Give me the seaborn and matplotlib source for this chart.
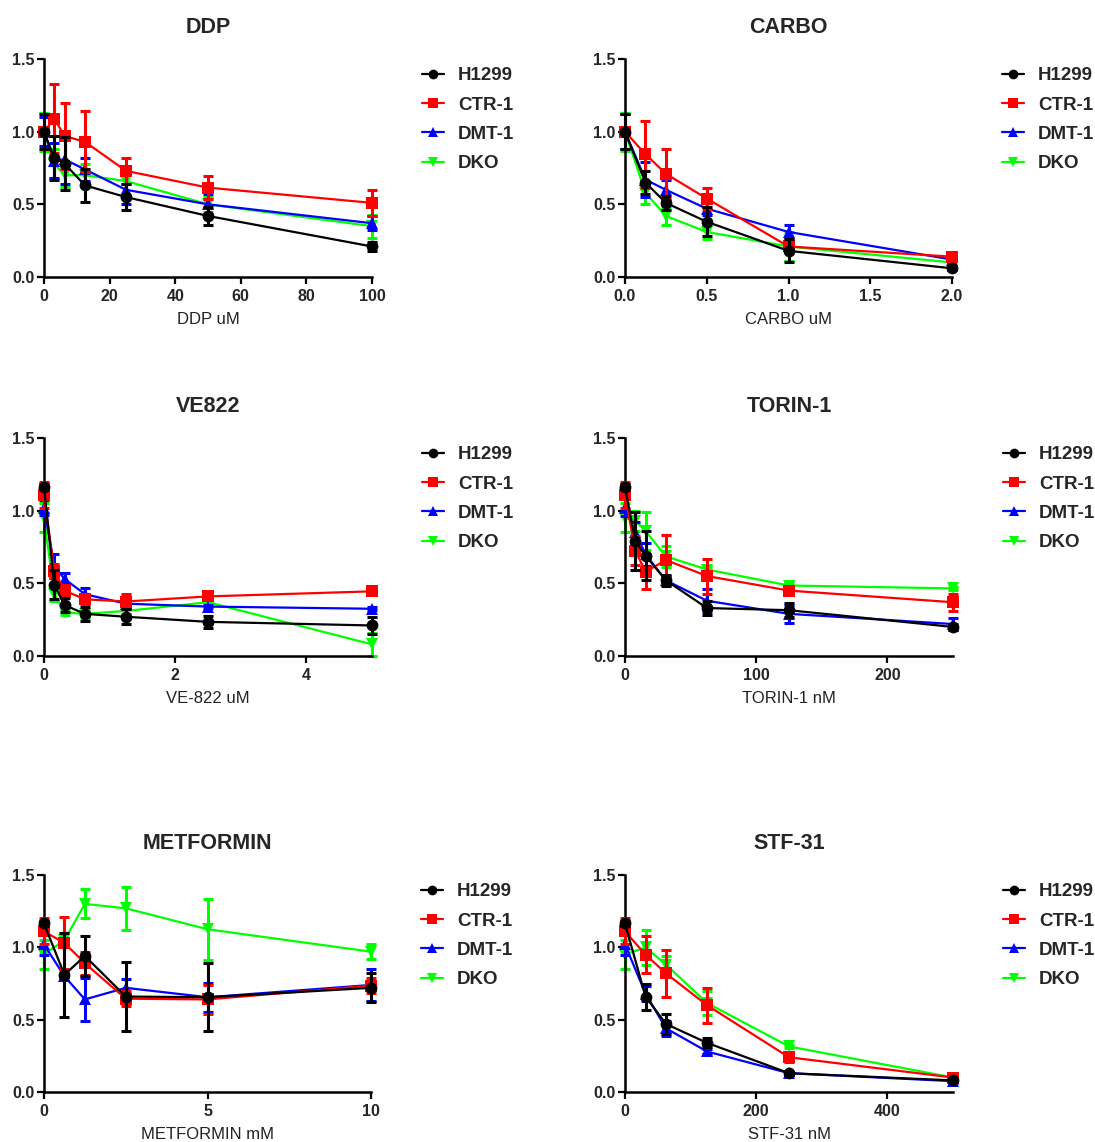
import matplotlib
matplotlib.use("Agg")
import matplotlib.pyplot as plt
import seaborn as sns
import pandas as pd
import numpy as np
from matplotlib.lines import Line2D

sns.set_theme(style="ticks")
plt.rcParams['font.family'] = ['Liberation Sans', 'DejaVu Sans']

series = ["H1299", "CTR-1", "DMT-1", "DKO"]
colors = {"H1299": "#000000", "CTR-1": "#FF0000", "DMT-1": "#0000FF", "DKO": "#00FF00"}
markers = {"H1299": "o", "CTR-1": "s", "DMT-1": "^", "DKO": "v"}

# ---- DDP ----
ddp_x = [0, 3.125, 6.25, 12.5, 25, 50, 100]
ddp_h1299 = [1.00, 0.82, 0.78, 0.63, 0.55, 0.42, 0.21]
ddp_h1299_err = [0.12, 0.15, 0.18, 0.115, 0.09, 0.06, 0.03]
ddp_ctr1 = [1.00, 1.09, 0.97, 0.93, 0.73, 0.615, 0.51]
ddp_ctr1_err = [0.03, 0.24, 0.23, 0.21, 0.09, 0.08, 0.09]
ddp_dmt1 = [1.00, 0.80, 0.81, 0.74, 0.60, 0.50, 0.37]
ddp_dmt1_err = [0.10, 0.12, 0.17, 0.08, 0.10, 0.07, 0.05]
ddp_dko = [1.00, 0.78, 0.70, 0.70, 0.66, 0.50, 0.35]
ddp_dko_err = [0.13, 0.10, 0.08, 0.08, 0.10, 0.05, 0.08]

# ---- CARBO ----
carbo_x = [0, 0.125, 0.25, 0.5, 1, 2]
carbo_h1299 = [1.00, 0.65, 0.51, 0.38, 0.18, 0.06]
carbo_h1299_err = [0.12, 0.08, 0.05, 0.10, 0.08, 0.01]
carbo_ctr1 = [1.00, 0.845, 0.71, 0.54, 0.21, 0.14]
carbo_ctr1_err = [0.03, 0.23, 0.17, 0.07, 0.03, 0.02]
carbo_dmt1 = [1.00, 0.67, 0.60, 0.47, 0.31, 0.12]
carbo_dmt1_err = [0.12, 0.12, 0.07, 0.04, 0.05, 0.01]
carbo_dko = [1.00, 0.58, 0.42, 0.31, 0.21, 0.10]
carbo_dko_err = [0.13, 0.08, 0.06, 0.05, 0.10, 0.01]

# ---- VE822 ----
ve_x = [0, 0.156, 0.3125, 0.625, 1.25, 2.5, 5]
ve_h1299 = [1.165, 0.49, 0.35, 0.29, 0.27, 0.235, 0.21]
ve_h1299_err = [0.02, 0.10, 0.05, 0.05, 0.05, 0.04, 0.06]
ve_ctr1 = [1.11, 0.585, 0.45, 0.39, 0.375, 0.41, 0.445]
ve_ctr1_err = [0.09, 0.05, 0.04, 0.03, 0.05, 0.02, 0.01]
ve_dmt1 = [1.02, 0.62, 0.53, 0.425, 0.36, 0.34, 0.325]
ve_dmt1_err = [0.05, 0.08, 0.04, 0.04, 0.03, 0.01, 0.01]
ve_dko = [0.95, 0.43, 0.30, 0.29, 0.31, 0.37, 0.08]
ve_dko_err = [0.10, 0.05, 0.02, 0.03, 0.02, 0.01, 0.08]

# ---- TORIN-1 ----
torin_x = [0, 7.8125, 15.625, 31.25, 62.5, 125, 250]
torin_h1299 = [1.165, 0.79, 0.69, 0.52, 0.33, 0.315, 0.20]
torin_h1299_err = [0.02, 0.20, 0.17, 0.04, 0.05, 0.05, 0.02]
torin_ctr1 = [1.11, 0.725, 0.58, 0.66, 0.55, 0.45, 0.37]
torin_ctr1_err = [0.09, 0.10, 0.12, 0.17, 0.12, 0.03, 0.06]
torin_dmt1 = [1.02, 0.85, 0.70, 0.52, 0.38, 0.29, 0.22]
torin_dmt1_err = [0.06, 0.07, 0.08, 0.03, 0.08, 0.06, 0.04]
torin_dko = [0.95, 0.93, 0.86, 0.685, 0.595, 0.485, 0.465]
torin_dko_err = [0.10, 0.07, 0.13, 0.07, 0.02, 0.02, 0.01]

# ---- METFORMIN ----
met_x = [0, 0.625, 1.25, 2.5, 5, 10]
met_h1299 = [1.165, 0.81, 0.94, 0.66, 0.655, 0.72]
met_h1299_err = [0.02, 0.29, 0.14, 0.24, 0.235, 0.10]
met_ctr1 = [1.11, 1.03, 0.89, 0.645, 0.64, 0.735]
met_ctr1_err = [0.09, 0.18, 0.08, 0.05, 0.10, 0.05]
met_dmt1 = [1.02, 0.80, 0.64, 0.72, 0.655, 0.74]
met_dmt1_err = [0.07, 0.02, 0.15, 0.06, 0.10, 0.11]
met_dko = [0.95, 1.05, 1.30, 1.27, 1.125, 0.97]
met_dko_err = [0.10, 0.05, 0.10, 0.15, 0.21, 0.05]

# ---- STF-31 ----
stf_x = [0, 31.25, 62.5, 125, 250, 500]
stf_h1299 = [1.165, 0.66, 0.47, 0.34, 0.13, 0.08]
stf_h1299_err = [0.02, 0.09, 0.07, 0.03, 0.01, 0.01]
stf_ctr1 = [1.11, 0.95, 0.82, 0.60, 0.24, 0.10]
stf_ctr1_err = [0.09, 0.13, 0.16, 0.12, 0.03, 0.01]
stf_dmt1 = [1.02, 0.68, 0.44, 0.28, 0.13, 0.075]
stf_dmt1_err = [0.07, 0.05, 0.05, 0.02, 0.01, 0.01]
stf_dko = [0.95, 1.00, 0.88, 0.615, 0.315, 0.10]
stf_dko_err = [0.10, 0.12, 0.06, 0.08, 0.01, 0.01]

panels = [
    dict(title="DDP", xlabel="DDP uM", x=ddp_x,
         vals=[ddp_h1299, ddp_ctr1, ddp_dmt1, ddp_dko],
         errs=[ddp_h1299_err, ddp_ctr1_err, ddp_dmt1_err, ddp_dko_err],
         xlim=(0, 100), xticks=[0, 20, 40, 60, 80, 100], fmt="{:.0f}"),
    dict(title="CARBO", xlabel="CARBO uM", x=carbo_x,
         vals=[carbo_h1299, carbo_ctr1, carbo_dmt1, carbo_dko],
         errs=[carbo_h1299_err, carbo_ctr1_err, carbo_dmt1_err, carbo_dko_err],
         xlim=(0, 2), xticks=[0, 0.5, 1.0, 1.5, 2.0], fmt="{:.1f}"),
    dict(title="VE822", xlabel="VE-822 uM", x=ve_x,
         vals=[ve_h1299, ve_ctr1, ve_dmt1, ve_dko],
         errs=[ve_h1299_err, ve_ctr1_err, ve_dmt1_err, ve_dko_err],
         xlim=(0, 5), xticks=[0, 2, 4], fmt="{:.0f}"),
    dict(title="TORIN-1", xlabel="TORIN-1 nM", x=torin_x,
         vals=[torin_h1299, torin_ctr1, torin_dmt1, torin_dko],
         errs=[torin_h1299_err, torin_ctr1_err, torin_dmt1_err, torin_dko_err],
         xlim=(0, 250), xticks=[0, 100, 200], fmt="{:.0f}"),
    dict(title="METFORMIN", xlabel="METFORMIN mM", x=met_x,
         vals=[met_h1299, met_ctr1, met_dmt1, met_dko],
         errs=[met_h1299_err, met_ctr1_err, met_dmt1_err, met_dko_err],
         xlim=(0, 10), xticks=[0, 5, 10], fmt="{:.0f}"),
    dict(title="STF-31", xlabel="STF-31 nM", x=stf_x,
         vals=[stf_h1299, stf_ctr1, stf_dmt1, stf_dko],
         errs=[stf_h1299_err, stf_ctr1_err, stf_dmt1_err, stf_dko_err],
         xlim=(0, 500), xticks=[0, 200, 400], fmt="{:.0f}"),
]

W, H = 1095, 1142
fig = plt.figure(figsize=(W / 100, H / 100), dpi=100)

# pixel boxes (left, top, right, bottom)
boxes = [(44, 59, 372, 277), (625, 59, 952, 277),
         (44, 438, 372, 656), (625, 438, 953, 656),
         (44, 875, 371, 1092), (625, 875, 953, 1092)]

for p, (l, t, r, b) in zip(panels, boxes):
    ax = fig.add_axes([l / W, 1 - b / H, (r - l) / W, (b - t) / H])
    rows = []
    for s, v in zip(series, p["vals"]):
        for xv, yv in zip(p["x"], v):
            rows.append(dict(x=xv, y=yv, line=s))
    df = pd.DataFrame(rows)
    order = series[::-1]
    for s in order:
        i = series.index(s)
        sub = df[df.line == s]
        ax.errorbar(p["x"], p["vals"][i], yerr=p["errs"][i], fmt="none",
                    ecolor=colors[s], elinewidth=2.2, capsize=3.5, capthick=2.2,
                    clip_on=False, zorder=2 + (3 - i))
        sns.lineplot(data=sub, x="x", y="y", color=colors[s], marker=markers[s],
                     markersize=8.5, markeredgewidth=0, linewidth=1.6, ax=ax,
                     legend=False, errorbar=None, clip_on=False,
                     zorder=2.5 + (3 - i))
    ax.set_xlim(*p["xlim"])
    ax.set_ylim(0, 1.5)
    ax.set_xticks(p["xticks"])
    ax.set_xticklabels([p["fmt"].format(v) for v in p["xticks"]])
    ax.set_yticks([0, 0.5, 1.0, 1.5])
    ax.set_yticklabels(["0.0", "0.5", "1.0", "1.5"])
    for lab in ax.get_xticklabels() + ax.get_yticklabels():
        lab.set_fontweight("bold")
        lab.set_fontsize(11.5)
    ax.tick_params(direction="out", length=5, width=1.6, color="black", pad=2)
    ax.tick_params(axis="x", pad=3.5)
    for sp in ["top", "right"]:
        ax.spines[sp].set_visible(False)
    for sp in ["left", "bottom"]:
        ax.spines[sp].set_linewidth(1.8)
        ax.spines[sp].set_color("black")
    ax.set_xlabel(p["xlabel"], fontsize=12, labelpad=6, color="#222222")
    ax.set_ylabel("")
    ax.set_title(p["title"], fontsize=15.5, fontweight="bold", pad=18.5)
    handles = [Line2D([0], [0], color=colors[s], marker=markers[s], markersize=7,
                      markeredgewidth=0, linewidth=1.6) for s in series]
    leg = ax.legend(handles, series, loc="upper left", bbox_to_anchor=(1.10, 1.04),
                    frameon=False, handlelength=1.2, handletextpad=0.75,
                    labelspacing=0.65, prop=dict(weight="bold", size=13.5))

fig.savefig("out.png", dpi=100)
